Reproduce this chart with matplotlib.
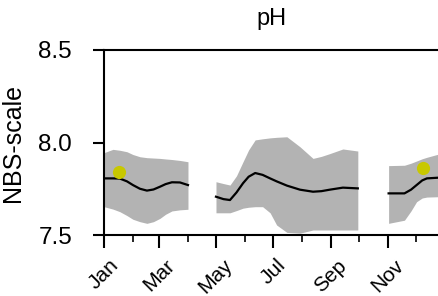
import matplotlib
matplotlib.use("Agg")
import matplotlib.pyplot as plt
import numpy as np

plt.rcParams['font.family'] = ['Liberation Sans', 'DejaVu Sans']

# Day-of-year positions of month starts
month_labels = ["Jan", "Mar", "May", "Jul", "Sep", "Nov"]
month_major = [0, 59, 120, 181, 243, 304]
month_minor = [31, 90, 151, 212, 273, 334]

# Segment 1 (Jan - Apr)
s1_day = [0, 9.6, 17, 24.6, 31, 38.5, 46, 53, 60, 66, 72.8, 81.4, 90]
s1_mean = [7.806, 7.806, 7.805, 7.79, 7.77, 7.75, 7.74, 7.746, 7.761, 7.775, 7.785, 7.784, 7.77]
s1_upper = [7.945, 7.963, 7.958, 7.95, 7.935, 7.923, 7.918, 7.916, 7.914, 7.911, 7.908, 7.903, 7.896]
s1_lower = [7.653, 7.64, 7.626, 7.605, 7.585, 7.572, 7.563, 7.572, 7.59, 7.612, 7.63, 7.636, 7.639]

# Segment 2 (May - Oct)
s2_day = [120, 128, 135, 142, 149, 155, 162, 170, 178, 185, 196, 210, 224, 233, 242, 256, 272]
s2_mean = [7.707, 7.694, 7.689, 7.73, 7.78, 7.815, 7.835, 7.825, 7.806, 7.79, 7.767, 7.745, 7.734, 7.737, 7.745, 7.756, 7.752]
s2_upper = [7.788, 7.778, 7.77, 7.82, 7.896, 7.96, 8.014, 8.02, 8.025, 8.028, 8.031, 7.977, 7.914, 7.925, 7.94, 7.965, 7.954]
s2_lower = [7.62, 7.62, 7.62, 7.632, 7.645, 7.65, 7.653, 7.653, 7.62, 7.554, 7.514, 7.51, 7.527, 7.527, 7.527, 7.527, 7.527]

# Segment 3 (Nov - Dec)
s3_day = [305, 322, 329, 335, 341, 346, 359]
s3_mean = [7.725, 7.725, 7.745, 7.77, 7.795, 7.806, 7.81]
s3_upper = [7.875, 7.877, 7.888, 7.9, 7.912, 7.92, 7.938]
s3_lower = [7.563, 7.58, 7.63, 7.68, 7.7, 7.705, 7.707]

# Observations
obs_day = [16, 341.5]
obs_val = [7.839, 7.86]

fig = plt.figure(figsize=(4.39, 2.96), dpi=100)
ax = fig.add_axes([104/439, 1-235/296, 1-104/439, (235-50)/296])

for d, m, u, l in [(s1_day, s1_mean, s1_upper, s1_lower),
                   (s2_day, s2_mean, s2_upper, s2_lower),
                   (s3_day, s3_mean, s3_upper, s3_lower)]:
    ax.fill_between(d, l, u, color='#b3b3b3', linewidth=0)
    ax.plot(d, m, color='black', lw=1.6)

ax.scatter(obs_day, obs_val, s=90, color='#c8c800', zorder=5, linewidths=0)

ax.set_xlim(0, 359)
ax.set_ylim(7.5, 8.5)
ax.set_yticks([7.5, 8.0, 8.5])
ax.set_yticklabels(["7.5", "8.0", "8.5"])
ax.set_xticks(month_major)
ax.set_xticklabels(month_labels, rotation=45, fontsize=15)
ax.set_xticks(month_minor, minor=True)

ax.spines['right'].set_visible(False)
for s in ['left', 'top', 'bottom']:
    ax.spines[s].set_linewidth(1.5)

ax.tick_params(axis='y', which='major', length=8, width=1.5, labelsize=17.5, pad=15)
ax.tick_params(axis='x', which='major', length=9, width=1.5, pad=6)
ax.tick_params(axis='x', which='minor', length=5, width=1.2)

ax.set_ylabel("NBS-scale", fontsize=18)
ax.yaxis.set_label_coords(-0.236, 0.5)
ax.set_title("pH", fontsize=17, pad=18)

fig.savefig("out.png", dpi=100)
